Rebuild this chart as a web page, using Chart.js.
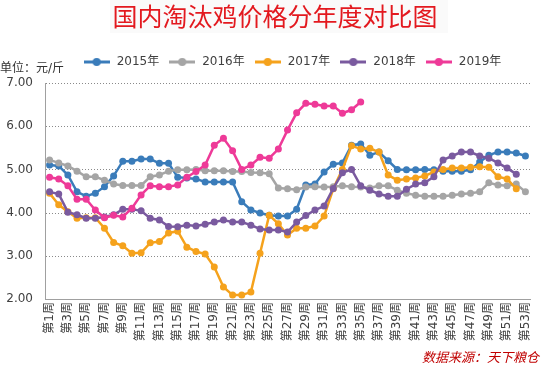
<!DOCTYPE html>
<html>
<head>
<meta charset="utf-8">
<script src="https://cdn.jsdelivr.net/npm/chart.js@4.4.0/dist/chart.umd.min.js"></script>
<style>
  html, body { margin: 0; padding: 0; background: #fff; }
  #wrap { width: 550px; height: 367px; }
</style>
</head>
<body>
<div id="wrap"><canvas id="myChart" width="550" height="367"></canvas></div>
<script>
// week categories
const weeks = Array.from({ length: 53 }, (_, i) => '第' + (i + 1) + '周');
const seriesNames = ['2015年', '2016年', '2017年', '2018年', '2019年'];
const yTicks = [2, 3, 4, 5, 6, 7];

// 元/斤
const y2015 = [5.10, 5.08, 4.87, 4.48, 4.38, 4.45, 4.60, 4.85, 5.19, 5.19,
  5.24, 5.24, 5.14, 5.14, 4.82, 4.80, 4.78, 4.71, 4.71, 4.71,
  4.71, 4.25, 4.06, 3.99, 3.94, 3.92, 3.92, 4.08, 4.64, 4.66,
  4.94, 5.12, 5.15, 5.56, 5.59, 5.33, 5.40, 5.20, 5.00, 4.99,
  4.99, 5.00, 4.99, 4.96, 4.96, 4.96, 4.99, 5.17, 5.33, 5.40,
  5.40, 5.38, 5.31];
const y2016 = [5.22, 5.15, 5.08, 4.96, 4.83, 4.83, 4.75, 4.66, 4.63, 4.63,
  4.63, 4.83, 4.87, 4.96, 4.99, 4.99, 5.00, 4.97, 4.97, 4.97,
  4.95, 4.95, 4.93, 4.92, 4.90, 4.57, 4.55, 4.53, 4.59, 4.60,
  4.59, 4.60, 4.62, 4.60, 4.59, 4.57, 4.62, 4.62, 4.52, 4.45,
  4.40, 4.38, 4.38, 4.38, 4.40, 4.43, 4.45, 4.48, 4.69, 4.64,
  4.62, 4.66, 4.48];
const y2017 = [4.45, 4.18, 4.02, 3.87, 3.88, 3.88, 3.64, 3.31, 3.23, 3.06,
  3.07, 3.30, 3.33, 3.53, 3.57, 3.20, 3.10, 3.04, 2.74, 2.28,
  2.09, 2.09, 2.16, 3.06, 3.94, 3.74, 3.48, 3.64, 3.64, 3.69,
  3.92, 4.55, 5.00, 5.55, 5.47, 5.49, 5.40, 4.87, 4.75, 4.78,
  4.80, 4.85, 4.94, 5.00, 5.03, 5.03, 5.05, 5.06, 5.05, 4.83,
  4.78, 4.55];
const y2018 = [4.48, 4.43, 4.01, 3.95, 3.87, 3.87, 3.90, 3.95, 4.08, 4.08,
  4.04, 3.87, 3.83, 3.68, 3.67, 3.71, 3.69, 3.73, 3.78, 3.83,
  3.78, 3.78, 3.71, 3.62, 3.60, 3.60, 3.55, 3.78, 3.93, 4.06,
  4.15, 4.56, 4.92, 5.00, 4.62, 4.52, 4.43, 4.38, 4.38, 4.54,
  4.66, 4.69, 4.83, 5.22, 5.31, 5.40, 5.40, 5.31, 5.26, 5.15,
  5.03, 4.89];
const y2019 = [4.82, 4.78, 4.62, 4.31, 4.31, 4.06, 3.88, 3.94, 3.90, 4.10,
  4.41, 4.62, 4.60, 4.60, 4.64, 4.82, 4.95, 5.10, 5.56, 5.72,
  5.43, 5.00, 5.10, 5.28, 5.26, 5.47, 5.91, 6.31, 6.53, 6.51,
  6.47, 6.47, 6.30, 6.38, 6.56];

const colors = ['#3a7cba', '#a5a5a5', '#f5a21c', '#7a5a9f', '#ee3a98'];
const allSeries = [y2015, y2016, y2017, y2018, y2019];

// legend marker: short line with a dot in the middle
function legendIcon(color) {
  const c = document.createElement('canvas');
  c.width = 26; c.height = 10;
  const g = c.getContext('2d');
  g.strokeStyle = color; g.lineWidth = 3;
  g.beginPath(); g.moveTo(0, 5); g.lineTo(26, 5); g.stroke();
  g.fillStyle = color;
  g.beginPath(); g.arc(13, 5, 4, 0, Math.PI * 2); g.fill();
  return c;
}
const icons = colors.map(legendIcon);

const FONT = "'DejaVu Sans', 'Noto Sans CJK SC', sans-serif";

const extras = {
  id: 'extras',
  afterLayout(chart) {
    const lg = chart.legend;
    lg.left += 27; lg.right += 27; lg.top -= 5; lg.bottom -= 5;
    const tb = chart.titleBlock;
    tb.left += 10; tb.right += 10;
  },
  beforeDraw(chart) {
    const ctx = chart.ctx;
    ctx.save();
    ctx.fillStyle = '#fafafa';
    ctx.fillRect(110, 0, 338, 33);
    ctx.restore();
  },
  beforeDatasetsDraw(chart) {
    // dotted horizontal grid lines at the y ticks
    const { ctx, chartArea, scales } = chart;
    ctx.save();
    ctx.strokeStyle = '#8a8a8a';
    ctx.lineWidth = 1;
    ctx.setLineDash([1, 2]);
    scales.y.ticks.forEach(t => {
      if (t.value === yTicks[0]) return;
      const y = Math.round(scales.y.getPixelForValue(t.value)) + 0.5;
      ctx.beginPath();
      ctx.moveTo(chartArea.left + 1, y);
      ctx.lineTo(chartArea.right, y);
      ctx.stroke();
    });
    ctx.restore();
  },
  afterDraw(chart) {
    const ctx = chart.ctx;
    ctx.save();
    ctx.textBaseline = 'middle';
    ctx.fillStyle = '#333';
    ctx.font = "12px " + FONT;
    ctx.textAlign = 'left';
    ctx.fillText('单位：元/斤', 0, 69);
    ctx.fillStyle = '#c00000';
    ctx.font = "italic 13px 'Noto Sans CJK SC', sans-serif";
    ctx.textAlign = 'right';
    ctx.fillText('数据来源：天下粮仓', 539, 357);
    ctx.restore();
  }
};

const ctx = document.getElementById('myChart');
new Chart(ctx, {
  type: 'line',
  data: {
    labels: weeks,
    datasets: allSeries.map((d, i) => ({
      label: seriesNames[i],
      data: d,
      borderColor: colors[i],
      backgroundColor: colors[i],
      pointBackgroundColor: colors[i],
      pointBorderWidth: 0,
      pointRadius: 3.5,
      borderWidth: 2.5,
      tension: 0,
      order: 4 - i
    }))
  },
  options: {
    responsive: false,
    animation: false,
    layout: { padding: { left: 0, right: 20, top: 0, bottom: 0 } },
    plugins: {
      title: {
        display: true,
        text: '国内淘汰鸡价格分年度对比图',
        color: '#e3191f',
        font: { family: "'Noto Sans CJK SC', sans-serif", size: 25, weight: 'normal' },
        padding: { top: 1, bottom: 21 }
      },
      legend: {
        display: true,
        position: 'top',
        labels: {
          usePointStyle: true,
          pointStyleWidth: 28,
          padding: 9,
          color: '#404040',
          font: { family: FONT, size: 12 },
          generateLabels(chart) {
            const items = Chart.defaults.plugins.legend.labels.generateLabels(chart);
            items.sort((a, b) => a.datasetIndex - b.datasetIndex);
            items.forEach(it => { it.pointStyle = icons[it.datasetIndex]; });
            return items;
          }
        }
      },
      tooltip: { enabled: false }
    },
    scales: {
      x: {
        offset: true,
        grid: { display: false, drawTicks: false },
        border: { display: true, color: '#a0a0a0', width: 1 },
        ticks: {
          autoSkip: false,
          maxRotation: 90,
          minRotation: 90,
          padding: 3,
          color: '#404040',
          font: { family: FONT, size: 12 },
          callback: function (v, i) { return i % 2 === 0 ? weeks[i] : ''; }
        },
        afterFit(scale) { scale.height = 68; }
      },
      y: {
        min: yTicks[0],
        max: yTicks[yTicks.length - 1],
        grid: { display: false, drawTicks: false },
        border: { display: true, color: '#a0a0a0', width: 1 },
        ticks: {
          stepSize: 1,
          padding: 12,
          color: '#404040',
          font: { family: FONT, size: 12 },
          callback: v => Number(v).toFixed(2)
        },
        afterFit(scale) { scale.width = 45; }
      }
    }
  },
  plugins: [extras]
});
</script>
</body>
</html>
